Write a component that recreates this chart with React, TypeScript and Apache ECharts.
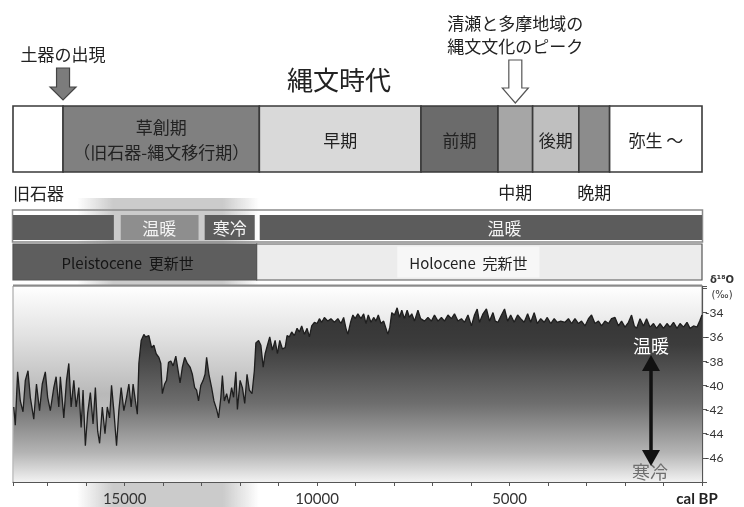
import React, { useEffect, useRef } from 'react';
import * as echarts from 'echarts';

const FONT = "'Noto Sans CJK JP', 'Noto Sans', sans-serif";
const NUM_FONT = "Lato, 'Noto Sans', sans-serif";

// x extent (cal BP, reversed axis)
const X_MIN = 0;
const X_MAX = 17900;

// Jomon period bar
const periodStart = [17900, 16600, 11500, 7300, 5300, 4400, 3200, 2400];
const periodEnd = [16600, 11500, 7300, 5300, 4400, 3200, 2400, 0];
const periodNames = ['', '草創期', '早期', '前期', '', '後期', '', '弥生 ～'];
const periodSub = ['', '（旧石器-縄文移行期）', '', '', '', '', '', ''];
const periodBelow = ['旧石器', '', '', '', '中期', '', '晩期', ''];

// arrows above the bar
const arrowYears = [16600, 4850];
const arrowLabels = ['土器の出現', '清瀬と多摩地域の\n縄文文化のピーク'];

// climate band
const climateStart = [17900, 15100, 12920, 11490];
const climateEnd = [15280, 13080, 11620, 0];
const climateLabels = ['', '温暖', '寒冷', '温暖'];
const climateLabelYear = [16600, 14100, 12270, 5130];

// geological epochs
const epochStart = [17900, 11570];
const epochEnd = [11570, 0];
const epochLabels = ['Pleistocene  更新世', 'Holocene  完新世'];
const epochLabelYear = [14920, 6070];

// δ18O record (cal BP, ‰)
const years = [
  17880, 17840, 17780, 17710, 17640, 17580, 17510, 17450, 17360, 17290, 17210, 17140, 17060, 17000,
  16930, 16840, 16780, 16710, 16670, 16580, 16510, 16450, 16390, 16320, 16260, 16190, 16130, 16080,
  16020, 15960, 15890, 15820, 15760, 15700, 15650, 15580, 15510, 15450, 15390, 15340, 15280, 15210,
  15150, 15090, 15020, 14950, 14890, 14830, 14780, 14720, 14670, 14630, 14570, 14500, 14455, 14370,
  14300, 14240, 14180, 14110, 14060, 14020, 13960, 13910, 13860, 13800, 13740, 13670, 13610, 13560,
  13500, 13440, 13370, 13300, 13240, 13180, 13130, 13080, 13020, 12960, 12910, 12870, 12810, 12740,
  12680, 12610, 12560, 12500, 12460, 12410, 12350, 12290, 12220, 12170, 12110, 12070, 12000, 11940,
  11880, 11820, 11760, 11690, 11630, 11590, 11520, 11460, 11400, 11350, 11290, 11230, 11160, 11090,
  11030, 10970, 10900, 10830, 10780, 10720, 10660, 10590, 10520, 10460, 10400, 10330, 10260, 10200,
  10140, 10070, 10000, 9940, 9880, 9810, 9720, 9640, 9550, 9460, 9380, 9310, 9250, 9200,
  9130, 9070, 9010, 8940, 8860, 8790, 8730, 8670, 8600, 8530, 8470, 8410, 8340, 8270,
  8210, 8160, 8110, 8060, 7990, 7920, 7860, 7800, 7730, 7660, 7600, 7540, 7470, 7380,
  7310, 7210, 7120, 7030, 6950, 6860, 6770, 6690, 6600, 6510, 6430, 6340, 6250, 6170,
  6080, 5990, 5910, 5840, 5780, 5690, 5600, 5520, 5430, 5370, 5300, 5210, 5130, 5050,
  4970, 4880, 4790, 4710, 4620, 4530, 4450, 4360, 4280, 4190, 4100, 4020, 3930, 3840,
  3760, 3670, 3560, 3470, 3390, 3300, 3210, 3130, 3040, 2950, 2870, 2780, 2690, 2610,
  2520, 2430, 2350, 2260, 2170, 2090, 2000, 1910, 1830, 1760, 1700, 1610, 1520, 1440,
  1350, 1260, 1180, 1090, 1000, 910, 830, 740, 650, 570, 480, 390, 310, 220,
  130, 60, 0,
];
const d18O = [
  -41.8, -43.3, -38.9, -41.3, -42.2, -39.6, -38.8, -41.0, -42.8, -39.9, -42.1, -39.9, -38.9, -41.0,
  -42.1, -40.2, -39.3, -41.8, -39.3, -42.7, -39.6, -38.2, -41.8, -39.6, -41.8, -40.2, -43.5, -40.4,
  -45.0, -42.3, -40.6, -43.2, -40.2, -43.8, -44.8, -41.8, -44.0, -41.8, -42.7, -40.0, -42.1, -45.0,
  -42.1, -40.2, -42.1, -41.0, -39.9, -41.8, -39.9, -41.3, -42.4, -38.2, -36.3, -35.8, -36.0, -35.9,
  -36.9, -36.7, -37.4, -37.7, -38.2, -40.7, -39.9, -39.6, -38.1, -38.0, -38.4, -37.6, -38.8, -39.8,
  -38.5, -37.7, -38.2, -38.5, -39.1, -40.2, -40.4, -41.3, -40.0, -39.6, -39.1, -37.7, -39.1, -40.2,
  -41.3, -42.0, -42.7, -41.0, -39.2, -41.3, -40.7, -41.5, -40.2, -41.0, -38.9, -42.0, -39.6, -40.2,
  -41.5, -39.1, -40.4, -40.7, -38.8, -36.5, -36.3, -36.7, -38.5, -37.4, -36.7, -36.0, -37.1, -36.3,
  -37.4, -36.3, -37.0, -36.9, -35.9, -36.0, -35.6, -35.9, -35.3, -35.6, -35.1, -35.8, -35.3, -36.0,
  -35.1, -34.8, -34.9, -34.5, -34.8, -34.4, -34.7, -34.5, -34.8, -34.5, -34.9, -34.4, -35.3, -35.8,
  -34.8, -34.2, -34.5, -34.1, -34.5, -34.1, -34.9, -34.2, -34.8, -34.4, -34.7, -34.2, -34.9, -34.7,
  -35.3, -35.8, -35.2, -34.0, -34.2, -33.6, -34.4, -33.8, -34.5, -33.8, -34.4, -34.1, -34.7, -33.8,
  -34.5, -34.7, -34.4, -34.7, -34.2, -34.7, -34.4, -34.7, -34.2, -34.5, -34.1, -34.7, -34.5, -34.8,
  -34.2, -35.1, -34.2, -33.7, -34.8, -34.1, -33.7, -34.7, -34.0, -34.7, -34.8, -34.2, -33.7, -34.7,
  -34.2, -34.8, -34.2, -34.5, -34.8, -34.1, -34.8, -34.0, -34.9, -34.5, -34.8, -34.4, -34.9, -34.5,
  -34.8, -34.7, -34.8, -34.5, -34.9, -34.5, -34.9, -34.7, -35.1, -34.5, -34.2, -34.9, -34.7, -35.1,
  -34.7, -34.9, -34.5, -34.4, -35.1, -34.7, -35.2, -34.8, -34.2, -35.1, -35.3, -34.5, -35.1, -34.5,
  -35.2, -34.9, -35.3, -34.9, -35.3, -34.9, -35.2, -34.8, -35.3, -34.9, -35.2, -34.8, -35.3, -35.1,
  -35.2, -34.7, -34.2,
];

// styles
const PERIOD_FILL = ['#ffffff', '#808080', '#d9d9d9', '#6b6b6b', '#a6a6a6', '#bfbfbf', '#8c8c8c', '#ffffff'];
const CLIMATE_FILL = ['#5c5c5c', '#8e8e8e', '#5c5c5c', '#5c5c5c'];
const EPOCH_FILL = ['#5e5e5e', '#ececec'];

function txt(text: string, x: number, y: number, size: number, fill: string, extra: any = {}) {
  return {
    type: 'text',
    style: {
      text, x, y, fill,
      fontSize: size, fontFamily: FONT,
      align: 'center', verticalAlign: 'middle',
      textAlign: 'center', textVerticalAlign: 'middle',
      ...extra,
    },
  };
}

function rectOf(api: any, s: number, e: number) {
  const a = api.coord([s, 1]);
  const b = api.coord([e, 0]);
  const x = Math.min(a[0], b[0]);
  return { x, y: a[1], width: Math.abs(b[0] - a[0]), height: b[1] - a[1] };
}

export default function App() {
  const ref = useRef<HTMLDivElement>(null);
  useEffect(() => {
    const chart = echarts.init(ref.current!, null, { renderer: 'svg' });

    const hiddenX = (gi: number) => ({ gridIndex: gi, type: 'value', min: X_MIN, max: X_MAX, inverse: true, show: false });
    const hiddenY = (gi: number) => ({ gridIndex: gi, type: 'value', min: 0, max: 1, show: false });

    const bgGrad = new echarts.graphic.LinearGradient(0, 0, 0, 1, [
      { offset: 0, color: '#ffffff' },
      { offset: 0.25, color: '#e2e2e2' },
      { offset: 0.55, color: '#b9b9b9' },
      { offset: 0.8, color: '#c6c6c6' },
      { offset: 1, color: '#f5f5f5' },
    ]);
    const areaGrad = new echarts.graphic.LinearGradient(0, 286, 0, 482, [
      { offset: 0, color: '#2e2e2e' },
      { offset: 0.3, color: '#3c3c3c' },
      { offset: 0.6, color: '#6e6e6e' },
      { offset: 0.85, color: '#b4b4b4' },
      { offset: 1, color: '#f2f2f2' },
    ], true);
    const glowGrad = new echarts.graphic.LinearGradient(0, 0, 1, 0, [
      { offset: 0, color: 'rgba(200,200,200,0)' },
      { offset: 0.2, color: 'rgba(200,200,200,0.95)' },
      { offset: 0.8, color: 'rgba(200,200,200,0.95)' },
      { offset: 1, color: 'rgba(200,200,200,0)' },
    ]);

    const option: any = {
      animation: false,
      grid: [
        { left: 13, right: 42, top: 106, height: 66 },
        { left: 13, right: 42, top: 215, height: 25 },
        { left: 13, right: 42, top: 244, height: 36 },
        { left: 13, right: 42, top: 286, height: 196, show: true, backgroundColor: bgGrad, borderColor: '#9a9a9a', borderWidth: 1 },
      ],
      xAxis: [
        hiddenX(0), hiddenX(1), hiddenX(2),
        {
          gridIndex: 3, type: 'value', min: X_MIN, max: X_MAX, inverse: true, interval: 1000,
          axisLine: { onZero: false, lineStyle: { color: '#555', width: 1.2 } },
          axisTick: { length: 4, lineStyle: { color: '#555' } },
          axisLabel: {
            fontSize: 15, color: '#333', margin: 8, fontFamily: NUM_FONT,
            formatter: (v: number) => (v > 0 && v < X_MAX && v % 5000 === 0 ? String(v) : ''),
          },
          splitLine: { show: false },
        },
      ],
      yAxis: [
        hiddenY(0), hiddenY(1), hiddenY(2),
        {
          gridIndex: 3, type: 'value', position: 'right', min: -48, max: -31.8, interval: 2,
          axisLine: { show: true, onZero: false, lineStyle: { color: '#555', width: 1.2 } },
          axisTick: { show: true, length: 5, lineStyle: { color: '#555' } },
          axisLabel: {
            fontSize: 12, color: '#333', margin: 3, fontFamily: NUM_FONT,
            formatter: (v: number) => (v <= -34 && v >= -46 ? String(v) : ''),
          },
          splitLine: { show: false },
        },
      ],
      series: [
        {
          type: 'custom', coordinateSystem: 'cartesian2d', xAxisIndex: 0, yAxisIndex: 0,
          encode: { x: [0, 1], y: 2 },
          data: periodStart.map((s, i) => [s, periodEnd[i], 0.5]),
          renderItem: (params: any, api: any) => {
            const i = params.dataIndex;
            const r = rectOf(api, periodStart[i], periodEnd[i]);
            const cx = r.x + r.width / 2;
            const children: any[] = [
              { type: 'rect', shape: r, style: { fill: PERIOD_FILL[i], stroke: '#3a3a3a', lineWidth: 1.6 } },
            ];
            if (periodNames[i]) {
              const cy = periodSub[i] ? r.y + 20 : r.y + r.height / 2;
              children.push(txt(periodNames[i], cx, cy, 17, '#222'));
            }
            if (periodSub[i]) children.push(txt(periodSub[i], cx, r.y + 45, 17, '#222'));
            if (periodBelow[i]) {
              if (i === 0) {
                children.push(txt(periodBelow[i], r.x, r.y + r.height + 20, 17, '#222', { align: 'left', textAlign: 'left' }));
              } else {
                children.push(txt(periodBelow[i], cx, r.y + r.height + 19, 17, '#222'));
              }
            }
            return { type: 'group', children };
          },
        },
        {
          type: 'custom', coordinateSystem: 'cartesian2d', xAxisIndex: 0, yAxisIndex: 0,
          encode: { x: 0, y: 1 },
          data: arrowYears.map((y) => [y, 1]),
          z: 5,
          renderItem: (params: any, api: any) => {
            const i = params.dataIndex;
            const p = api.coord([arrowYears[i], 1]);
            const hollow = i === 1;
            const x = p[0];
            const tip = p[1] - (hollow ? 3 : 6);
            const len = hollow ? 43 : 32;
            const headH = hollow ? 15 : 13;
            const hw = 13, sw = 6.5;
            const lines = arrowLabels[i].split('\n');
            const children: any[] = [
              {
                type: 'polygon',
                shape: {
                  points: [
                    [x - sw, tip - len], [x + sw, tip - len], [x + sw, tip - headH], [x + hw, tip - headH],
                    [x, tip], [x - hw, tip - headH], [x - sw, tip - headH],
                  ],
                },
                style: { fill: hollow ? '#ffffff' : '#7c7c7c', stroke: hollow ? '#555' : '#444', lineWidth: 1.2 },
              },
            ];
            lines.forEach((ln, k) => {
              const cy = tip - len - 15 - (lines.length - 1 - k) * 23;
              children.push(txt(ln, x, cy, 17, '#222'));
            });
            return { type: 'group', children };
          },
        },
        {
          type: 'custom', coordinateSystem: 'cartesian2d', xAxisIndex: 1, yAxisIndex: 1,
          encode: { x: [0, 1], y: 2 },
          data: climateStart.map((s, i) => [s, climateEnd[i], 0.5]),
          renderItem: (params: any, api: any) => {
            const i = params.dataIndex;
            const r = rectOf(api, climateStart[i], climateEnd[i]);
            const children: any[] = [{ type: 'rect', shape: r, style: { fill: CLIMATE_FILL[i] } }];
            if (climateLabels[i]) {
              const lx = api.coord([climateLabelYear[i], 0.5])[0];
              children.push(txt(climateLabels[i], lx, r.y + r.height / 2, 17, '#f4f4f4'));
            }
            return { type: 'group', children };
          },
        },
        {
          type: 'custom', coordinateSystem: 'cartesian2d', xAxisIndex: 2, yAxisIndex: 2,
          encode: { x: [0, 1], y: 2 },
          data: epochStart.map((s, i) => [s, epochEnd[i], 0.5]),
          renderItem: (params: any, api: any) => {
            const i = params.dataIndex;
            const r = rectOf(api, epochStart[i], epochEnd[i]);
            const lx = api.coord([epochLabelYear[i], 0.5])[0];
            const extra = i === 1
              ? { backgroundColor: '#f7f7f7', padding: [8, 12] }
              : {};
            return {
              type: 'group',
              children: [
                { type: 'rect', shape: r, style: { fill: EPOCH_FILL[i], stroke: '#555', lineWidth: 1.2 } },
                txt(epochLabels[i], lx, r.y + r.height / 2, 15, i === 0 ? '#151515' : '#222', extra),
              ],
            };
          },
        },
        {
          type: 'line', xAxisIndex: 3, yAxisIndex: 3,
          data: years.map((y, i) => [y, d18O[i]]),
          showSymbol: false, symbol: 'none',
          lineStyle: { color: '#1e1e1e', width: 1.3 },
          areaStyle: { color: areaGrad, origin: 'start', opacity: 1 },
          z: 3,
        },
      ],
      graphic: [
        {
          type: 'rect', z: -10, silent: true,
          shape: { x: 77, y: 198, width: 182, height: 309 },
          style: { fill: glowGrad },
        },
        {
          type: 'rect', z: -5, silent: true,
          shape: { x: 12.5, y: 210, width: 690, height: 32 },
          style: { fill: 'rgba(0,0,0,0)', stroke: '#8a8a8a', lineWidth: 1.5 },
        },
        {
          type: 'line', z: 50, silent: true,
          shape: { x1: 13, y1: 285.5, x2: 702, y2: 285.5 },
          style: { stroke: '#8a8a8a', lineWidth: 2 },
        },
        {
          type: 'text', z: 50, x: 339, y: 78,
          style: { text: '縄文時代', fontSize: 26, fontFamily: FONT, fill: '#222', align: 'center', verticalAlign: 'middle', textAlign: 'center', textVerticalAlign: 'middle' },
        },
        {
          type: 'text', z: 50, x: 651, y: 345,
          style: { text: '温暖', fontSize: 18, fontFamily: FONT, fill: '#ffffff', align: 'center', verticalAlign: 'middle', textAlign: 'center', textVerticalAlign: 'middle' },
        },
        {
          type: 'text', z: 50, x: 650, y: 471,
          style: { text: '寒冷', fontSize: 18, fontFamily: FONT, fill: '#6e6e6e', align: 'center', verticalAlign: 'middle', textAlign: 'center', textVerticalAlign: 'middle' },
        },
        {
          type: 'line', z: 50, silent: true,
          shape: { x1: 651, y1: 366, x2: 651, y2: 456 },
          style: { stroke: '#111', lineWidth: 3.5 },
        },
        {
          type: 'polygon', z: 50, silent: true,
          shape: { points: [[651, 355], [642, 371], [660, 371]] },
          style: { fill: '#111' },
        },
        {
          type: 'polygon', z: 50, silent: true,
          shape: { points: [[651, 466], [642, 450], [660, 450]] },
          style: { fill: '#111' },
        },
        {
          type: 'text', z: 50, x: 697, y: 498,
          style: { text: 'cal BP', fontSize: 15, fontWeight: 'bold', fontFamily: NUM_FONT, fill: '#222', align: 'center', verticalAlign: 'middle', textAlign: 'center', textVerticalAlign: 'middle' },
        },
        {
          type: 'text', z: 50, x: 722, y: 279,
          style: { text: 'δ¹⁸O', fontSize: 10, fontWeight: 'bold', fontFamily: "'DejaVu Sans', sans-serif", fill: '#333', align: 'center', verticalAlign: 'middle', textAlign: 'center', textVerticalAlign: 'middle' },
        },
        {
          type: 'text', z: 50, x: 722, y: 294,
          style: { text: '(‰)', fontSize: 10, fontFamily: "'DejaVu Sans', sans-serif", fill: '#333', align: 'center', verticalAlign: 'middle', textAlign: 'center', textVerticalAlign: 'middle' },
        },
      ],
    };

    chart.setOption(option);
    return () => chart.dispose();
  }, []);

  return <div ref={ref} style={{ position: 'fixed', left: 0, top: 0, width: 744, height: 507 }} />;
}
